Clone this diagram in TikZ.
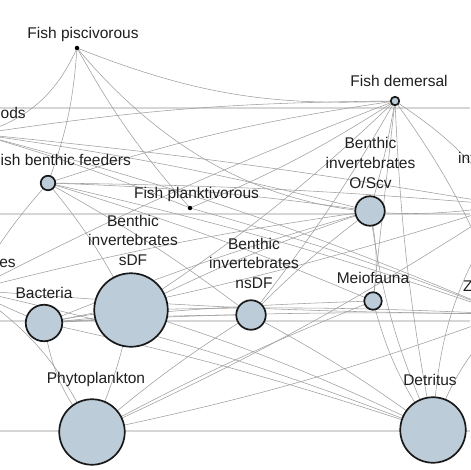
\documentclass[tikz,border=0pt]{standalone}
\usepackage{fontspec}
\setmainfont{Liberation Sans}
\usetikzlibrary{backgrounds}
\definecolor{nodefill}{HTML}{BCCDD9}
\definecolor{linkcol}{HTML}{9E9E9E}
\definecolor{bandcol}{HTML}{D6D6D6}
\definecolor{txtcol}{HTML}{1E1E1E}
\begin{document}
\begin{tikzpicture}[x=1pt,y=-1pt,
  sp/.style={circle,draw=black!90,line width=1.7pt,fill=nodefill,inner sep=0pt,minimum size=#1},
  dot/.style={circle,fill=black,inner sep=0pt,minimum size=4.5pt},
  lbl/.style={font=\fontsize{15.5}{19.5}\selectfont,text=txtcol,align=center,inner sep=0pt,anchor=base},
  lk/.style={draw=linkcol,line width=0.55pt},
  band/.style={draw=bandcol,line width=2.4pt}]
\useasboundingbox (0,0) rectangle (470,470);
% species
\node[dot] (fp) at (77,48) {};
\node[sp=8.5pt] (fd) at (395,101) {};
\node[sp=10pt] (ceph) at (-22,134) {};
\node[sp=14.5pt] (fbf) at (48,183) {};
\node[dot] (fpl) at (190,208) {};
\node[sp=29.5pt] (oscv) at (370,211) {};
\node[sp=20pt] (binv) at (505,205) {};
\node[sp=20pt] (poly) at (-28,290) {};
\node[sp=73.5pt] (sdf) at (131,310) {};
\node[sp=29.5pt] (nsdf) at (251,315) {};
\node[sp=36.5pt] (bact) at (44,323) {};
\node[sp=17.5pt] (meio) at (373,301) {};
\node[sp=20pt] (zoo) at (506,314) {};
\node[sp=65.5pt] (phyto) at (92,432) {};
\node[sp=65.5pt] (det) at (433,430) {};
% labels (base = baseline of last line)
\node[lbl] (l-fp) at (83,39) {Fish piscivorous};
\node[lbl] (l-fd) at (399,87) {Fish demersal};
\node[lbl] (l-ceph) at (-20,119) {Cephalopods};
\node[lbl] (l-fbf) at (61,166) {Fish benthic feeders};
\node[lbl] (l-fpl) at (196.5,198) {Fish planktivorous};
\node[lbl] (l-oscv) at (370.5,188) {Benthic\\invertebrates\\O/Scv};
\node[lbl] (l-binv) at (503,182.5) {Benthic\\invertebrates\\SF};
\node[lbl] (l-poly) at (-26.5,267) {Polychaetes};
\node[lbl] (l-sdf) at (133,265) {Benthic\\invertebrates\\sDF};
\node[lbl] (l-nsdf) at (254,288) {Benthic\\invertebrates\\nsDF};
\node[lbl] (l-bact) at (44,298) {Bacteria};
\node[lbl] (l-meio) at (373,283) {Meiofauna};
\node[lbl] (l-zoo) at (505.7,291) {Zooplankton};
\node[lbl] (l-phyto) at (96,383) {Phytoplankton};
\node[lbl] (l-det) at (430,385) {Detritus};
\begin{scope}[on background layer]
  % trophic level bands
  \coordinate (b1w) at (0,108); \coordinate (b1e) at (470,108);
  \coordinate (b2w) at (0,214); \coordinate (b2e) at (470,214);
  \coordinate (b3w) at (0,321); \coordinate (b3e) at (470,321);
  \coordinate (b4w) at (0,431); \coordinate (b4e) at (470,431);
  \draw[band] (b1w) -- (b1e);
  \draw[band] (b2w) -- (b2e);
  \draw[band] (b3w) -- (b3e);
  \draw[band] (b4w) -- (b4e);
  % trophic links
  \draw[lk] (fp.center) to[bend left=25] (ceph.center);
  \draw[lk] (fp.center) to[bend left=8] (fbf.center);
  \draw[lk] (fp.center) to[bend right=6] (fpl.center);
  \draw[lk] (fp.center) to[bend right=12] (fd.center);
  \draw[lk] (fp.center) to[bend right=30] (binv.center);
  \draw[lk] (fd.center) to[bend right=4] (ceph.center);
  \draw[lk] (fd.center) to[bend right=5] (fbf.center);
  \draw[lk] (fd.center) to[bend left=5] (fpl.center);
  \draw[lk] (fd.center) to[bend left=3] (oscv.center);
  \draw[lk] (fd.center) to[bend left=5] (sdf.center);
  \draw[lk] (fd.center) to[bend left=4] (nsdf.center);
  \draw[lk] (fd.center) to (meio.center);
  \draw[lk] (fd.center) to[bend right=3] (poly.center);
  \draw[lk] (fd.center) to[bend left=10] (binv.center);
  \draw[lk] (fd.center) to[bend left=8] (zoo.center);
  \draw[lk] (fd.center) to[bend right=4] (det.center);
  \draw[lk] (ceph.center) to[bend left=3] (fpl.center);
  \draw[lk] (ceph.center) to[bend left=3] (oscv.center);
  \draw[lk] (ceph.center) to[bend left=2] (binv.center);
  \draw[lk] (ceph.center) to[bend left=4] (zoo.center);
  \draw[lk] (fbf.center) to[bend left=3] (oscv.center);
  \draw[lk] (fbf.center) to[bend left=2] (binv.center);
  \draw[lk] (fbf.center) to[bend left=3] (zoo.center);
  \draw[lk] (fbf.center) to[bend left=3] (meio.center);
  \draw[lk] (fbf.center) to[bend left=4] (nsdf.center);
  \draw[lk] (fbf.center) to[bend left=6] (sdf.center);
  \draw[lk] (fbf.center) to[bend right=6] (poly.center);
  \draw[lk] (fpl.center) to[bend left=3] (zoo.center);
  \draw[lk] (oscv.center) to[bend right=4] (sdf.center);
  \draw[lk] (oscv.center) to[bend right=4] (nsdf.center);
  \draw[lk] (oscv.center) to[bend left=10] (meio.center);
  \draw[lk] (oscv.center) to[bend right=3] (bact.center);
  \draw[lk] (oscv.center) to[bend right=8] (det.center);
  \draw[lk] (oscv.center) to[bend right=3] (poly.center);
  \draw[lk] (binv.center) to[bend left=4] (phyto.center);
  \draw[lk] (binv.center) to[bend right=15] (det.center);
  \draw[lk] (binv.center) to[bend left=3] (bact.center);
  \draw[lk] (zoo.center) to[bend left=4] (phyto.center);
  \draw[lk] (zoo.center) to[bend right=2] (bact.center);
  \draw[lk] (zoo.center) to[bend right=12] (det.center);
  \draw[lk] (zoo.center) to[bend right=2] (sdf.center);
  \draw[lk] (sdf.center) to[bend left=4] (det.center);
  \draw[lk] (sdf.center) to[bend right=3] (bact.center);
  \draw[lk] (sdf.center) to[bend left=6] (phyto.center);
  \draw[lk] (nsdf.center) to[bend left=4] (det.center);
  \draw[lk] (nsdf.center) to[bend right=4] (phyto.center);
  \draw[lk] (nsdf.center) to[bend right=2] (bact.center);
  \draw[lk] (meio.center) to[bend right=10] (det.center);
  \draw[lk] (meio.center) to[bend right=2] (bact.center);
  \draw[lk] (meio.center) to[bend right=3] (phyto.center);
  \draw[lk] (poly.center) to[bend left=4] (det.center);
  \draw[lk] (poly.center) to[bend right=3] (bact.center);
  \draw[lk] (poly.center) to[bend left=15] (phyto.center);
  \draw[lk] (poly.center) to[bend right=2] (zoo.center);
  \draw[lk] (bact.center) to[bend right=15] (phyto.center);
  \draw[lk] (bact.center) to[bend left=3] (det.center);
\end{scope}
\end{tikzpicture}
\end{document}
